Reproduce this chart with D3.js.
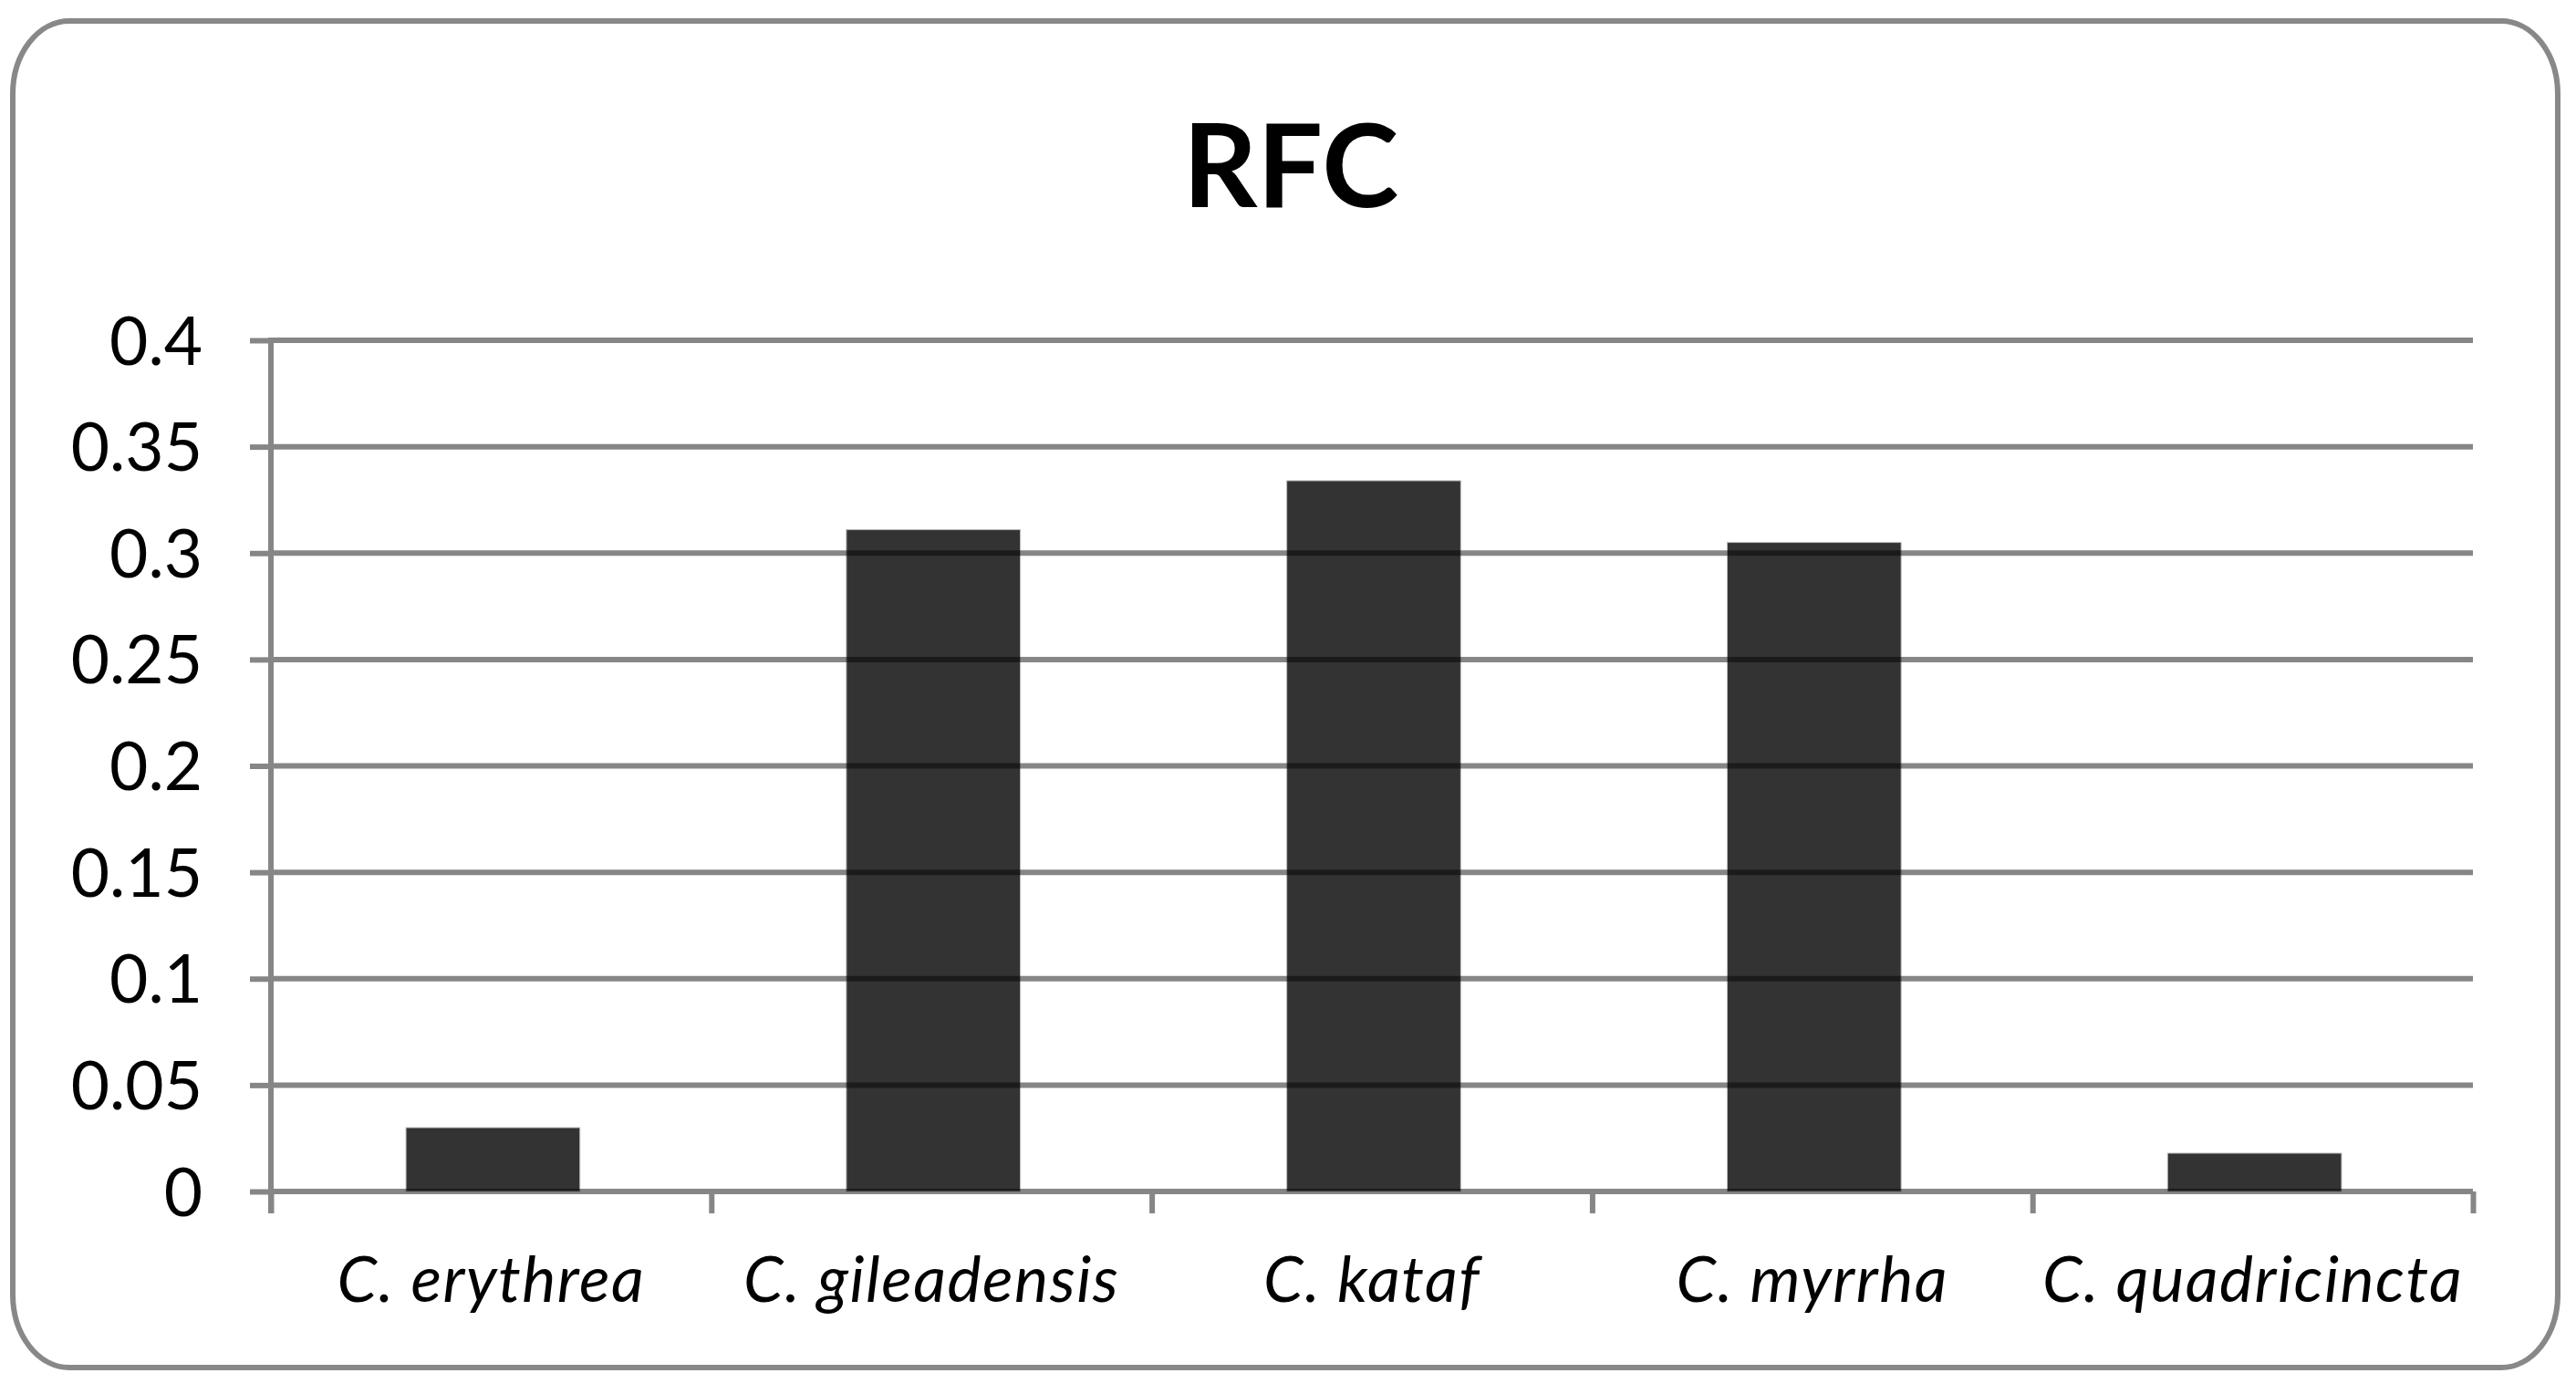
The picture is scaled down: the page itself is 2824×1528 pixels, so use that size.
<!DOCTYPE html>
<html>
<head>
<meta charset="utf-8">
<script src="https://cdn.jsdelivr.net/npm/d3@7"></script>
<style>
  html, body { margin: 0; padding: 0; background: #fff; }
  svg { display: block; }
</style>
</head>
<body>
<svg id="chart" width="2824" height="1528"></svg>
<script>
// ---- data ----
const title = "RFC";
const categories = ["C. erythrea", "C. gileadensis", "C. kataf", "C. myrrha", "C. quadricincta"];
const values = [0.03, 0.311, 0.334, 0.305, 0.018];
const yTicks = [0, 0.05, 0.1, 0.15, 0.2, 0.25, 0.3, 0.35, 0.4];
const yTickLabels = ["0", "0.05", "0.1", "0.15", "0.2", "0.25", "0.3", "0.35", "0.4"];

// ---- layout ----
const W = 2824, H = 1528;
const plot = { left: 297, right: 2711, top: 373, bottom: 1306 };
const gridColor = "#868686";
const barColor = "#333333";

const svg = d3.select("#chart");

// frame
svg.append("rect")
  .attr("x", 14).attr("y", 23)
  .attr("width", 2804 - 14).attr("height", 1499 - 23)
  .attr("rx", 62).attr("ry", 80)
  .attr("fill", "#fff")
  .attr("stroke", "#888888")
  .attr("stroke-width", 6);

// title
svg.append("text")
  .attr("x", 1415).attr("y", 227)
  .attr("text-anchor", "middle")
  .attr("font-family", "Lato, 'Open Sans', sans-serif")
  .attr("font-weight", 700)
  .attr("font-size", 127)
  .attr("fill", "#000")
  .text(title);

// scales
const x = d3.scaleBand()
  .domain(categories)
  .range([plot.left, plot.right])
  .paddingInner(0.605)
  .paddingOuter(0.3025);

const xEdges = d3.scaleLinear().domain([0, categories.length]).range([plot.left, plot.right]);

const y = d3.scaleLinear().domain([0, 0.4]).range([plot.bottom, plot.top]);

// bars
svg.append("g").selectAll("rect")
  .data(values)
  .join("rect")
  .attr("x", (d, i) => x(categories[i]) + 2)
  .attr("y", d => y(d))
  .attr("width", x.bandwidth())
  .attr("height", d => y(0) - y(d))
  .attr("fill", barColor)
  .attr("stroke", "#bdbdbd")
  .attr("stroke-width", 1);

// y axis ticks and labels
const yAxis = d3.axisLeft(y)
  .tickValues(yTicks)
  .tickSize(23)
  .tickFormat((d, i) => yTickLabels[i]);

const gy = svg.append("g")
  .attr("transform", `translate(${plot.left},0)`)
  .call(yAxis);
gy.select(".domain").remove();
gy.selectAll(".tick line")
  .attr("stroke", gridColor)
  .attr("stroke-width", 6);
gy.selectAll(".tick text")
  .attr("x", -75)
  .attr("dy", null)
  .attr("y", 26)
  .attr("font-family", "Lato, 'Open Sans', sans-serif")
  .attr("font-size", 73)
  .attr("fill", "#000");

// gridlines (drawn over bars, multiply like the reference)
svg.append("g")
  .style("mix-blend-mode", "multiply")
  .selectAll("line")
  .data(yTicks)
  .join("line")
  .attr("x1", plot.left).attr("x2", plot.right)
  .attr("y1", d => y(d)).attr("y2", d => y(d))
  .attr("stroke", gridColor)
  .attr("stroke-width", 6);

// y axis line
svg.append("line")
  .attr("x1", plot.left).attr("x2", plot.left)
  .attr("y1", plot.top - 3).attr("y2", plot.bottom + 24)
  .attr("stroke", gridColor)
  .attr("stroke-width", 6);

// x axis boundary ticks
const gxEdges = svg.append("g")
  .attr("transform", `translate(0,${plot.bottom})`)
  .call(d3.axisBottom(xEdges).ticks(categories.length).tickSize(24).tickFormat(""));
gxEdges.select(".domain").remove();
gxEdges.selectAll(".tick line")
  .attr("stroke", gridColor)
  .attr("stroke-width", 6);

// x category labels
const gx = svg.append("g")
  .attr("transform", `translate(0,${plot.bottom})`)
  .call(d3.axisBottom(x).tickSize(0));
gx.select(".domain").remove();
gx.selectAll(".tick text")
  .attr("y", 121)
  .attr("dy", null)
  .attr("font-family", "Lato, 'Open Sans', sans-serif")
  .attr("font-style", "italic")
  .attr("font-size", 70)
  .attr("letter-spacing", 1.5)
  .attr("fill", "#000");
</script>
</body>
</html>
